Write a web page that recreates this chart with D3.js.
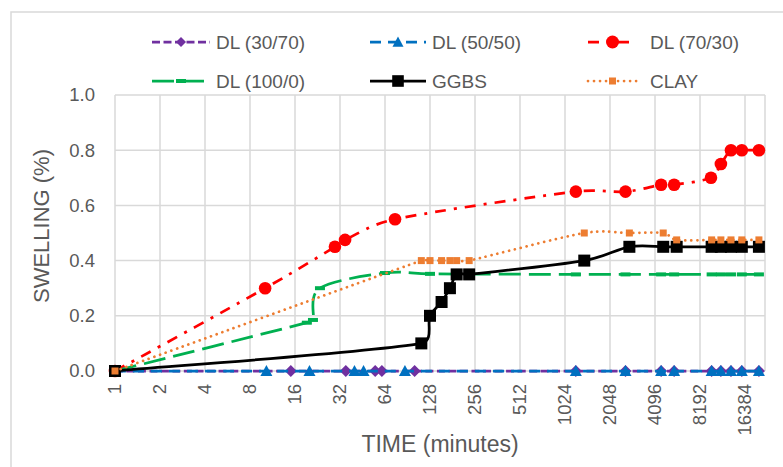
<!DOCTYPE html>
<html>
<head>
<meta charset="utf-8">
<script src="https://cdn.jsdelivr.net/npm/d3@7"></script>
<style>
  body { margin: 0; background: #fff; }
  text { font-family: "Liberation Sans", Arial, sans-serif; fill: #595959; }
</style>
</head>
<body>
<div id="chart"></div>
<script>
// ---- data ----
const seriesNames = ['DL (30/70)', 'DL (50/50)', 'DL (70/30)', 'DL (100/0)', 'GGBS', 'CLAY'];

const dl3070Time = [1, 15, 35, 55, 61, 101, 1210, 2600, 4500, 5500, 9800, 11300, 13200, 15600, 20300];
const dl3070Swell = [0, 0, 0, 0, 0, 0, 0, 0, 0, 0, 0, 0, 0, 0, 0];

const dl5050Time = [1, 10.3, 20, 40, 46, 87, 1210, 2600, 4500, 5500, 9800, 11300, 13200, 15600, 20300];
const dl5050Swell = [0, 0, 0, 0, 0, 0, 0, 0, 0, 0, 0, 0, 0, 0, 0];

const dl7030Time = [1, 10.1, 29.6, 34.6, 74.7, 1210, 2600, 4500, 5500, 9700, 11300, 13200, 15600, 20300];
const dl7030Swell = [0, 0.30, 0.45, 0.475, 0.55, 0.65, 0.65, 0.675, 0.675, 0.70, 0.75, 0.80, 0.80, 0.80];

const dl1000Time = [1, 19.2, 21.1, 23.5, 64, 128, 1210, 2600, 4500, 5500, 9800, 11300, 13200, 15600, 20300];
const dl1000Swell = [0, 0.175, 0.185, 0.30, 0.355, 0.352, 0.35, 0.35, 0.35, 0.35, 0.35, 0.35, 0.35, 0.35, 0.35];

const ggbsTime = [1, 112, 128, 153, 174, 193, 234, 1378, 2760, 4650, 5720, 9800, 11300, 13200, 15600, 20300];
const ggbsSwell = [0, 0.10, 0.20, 0.25, 0.30, 0.35, 0.35, 0.40, 0.45, 0.45, 0.45, 0.45, 0.45, 0.45, 0.45, 0.45];

const clayTime = [1, 112, 128, 153, 174, 193, 234, 1378, 2760, 4650, 5720, 9800, 11300, 13200, 15600, 20300];
const claySwell = [0, 0.40, 0.40, 0.40, 0.40, 0.40, 0.40, 0.50, 0.50, 0.50, 0.475, 0.475, 0.475, 0.475, 0.475, 0.475];

const xTicks = [1, 2, 4, 8, 16, 32, 64, 128, 256, 512, 1024, 2048, 4096, 8192, 16384];
const yTicks = [0, 0.2, 0.4, 0.6, 0.8, 1.0];

// ---- layout ----
const W = 783, H = 467;
const plot = { left: 115, right: 765, top: 95, bottom: 371 };
const GRID = '#d9d9d9';

const svg = d3.select('#chart').append('svg')
  .attr('width', W).attr('height', H);

// outer chart border (only top/left visible in the crop)
svg.append('rect')
  .attr('x', 11).attr('y', 12)
  .attr('width', 800).attr('height', 500)
  .attr('fill', 'none').attr('stroke', GRID).attr('stroke-width', 1.5);

const x = d3.scaleLog().base(2)
  .domain([1, Math.pow(2, (plot.right - plot.left) / 45)])
  .range([plot.left, plot.right]);
const y = d3.scaleLinear().domain([0, 1]).range([plot.bottom, plot.top]);

// gridlines
const grid = svg.append('g').attr('stroke', GRID).attr('stroke-width', 1.5);
grid.selectAll('.vx').data(xTicks).enter().append('line')
  .attr('x1', d => x(d)).attr('x2', d => x(d))
  .attr('y1', plot.top).attr('y2', plot.bottom);
grid.append('line')
  .attr('x1', plot.right).attr('x2', plot.right)
  .attr('y1', plot.top).attr('y2', plot.bottom);
grid.selectAll('.hy').data(yTicks).enter().append('line')
  .attr('x1', plot.left).attr('x2', plot.right)
  .attr('y1', d => y(d)).attr('y2', d => y(d));

// tick labels
svg.append('g').selectAll('text').data(yTicks).enter().append('text')
  .attr('x', 95).attr('y', d => y(d)).attr('dy', '0.35em')
  .attr('text-anchor', 'end').style('font-size', '18.5px')
  .text(d => d.toFixed(1));

svg.append('g').selectAll('text').data(xTicks).enter().append('text')
  .attr('transform', d => `translate(${x(d)},384) rotate(-90)`)
  .attr('dy', '0.35em').attr('text-anchor', 'end').style('font-size', '18.5px')
  .text(d => d);

// axis titles
svg.append('text')
  .attr('x', (plot.left + plot.right) / 2).attr('y', 452)
  .attr('text-anchor', 'middle').style('font-size', '23px')
  .text('TIME (minutes)');
svg.append('text')
  .attr('transform', 'translate(49,226) rotate(-90)')
  .attr('text-anchor', 'middle').style('font-size', '22px')
  .text('SWELLING (%)');

// ---- marker shapes ----
function marker(sel, type, color, s) {
  if (type === 'diamond') {
    sel.append('path').attr('d', `M0,${-s}L${s},0L0,${s}L${-s},0Z`).attr('fill', color);
  } else if (type === 'triangle') {
    sel.append('path').attr('d', `M0,${-s}L${s},${s*0.85}L${-s},${s*0.85}Z`).attr('fill', color);
  } else if (type === 'circle') {
    sel.append('circle').attr('r', s).attr('fill', color);
  } else if (type === 'square') {
    sel.append('rect').attr('x', -s).attr('y', -s).attr('width', 2*s).attr('height', 2*s).attr('fill', color);
  } else if (type === 'dash') {
    sel.append('rect').attr('x', -s).attr('y', -2).attr('width', 2*s).attr('height', 4).attr('fill', color);
  }
}

// Excel-ish smoothed line: bezier with tangents (p[i+1]-p[i-1])/6,
// clamped so short segments next to long ones don't loop
function smoothPath(pts) {
  const p = pts.map(d => [x(d[0]), y(d[1])]);
  const n = p.length;
  const tan = p.map((d, i) => {
    const a = p[Math.max(i - 1, 0)], b = p[Math.min(i + 1, n - 1)];
    return [(b[0] - a[0]) / 6, (b[1] - a[1]) / 6];
  });
  function clamp(v, maxLen) {
    const l = Math.hypot(v[0], v[1]);
    return l > maxLen ? [v[0] * maxLen / l, v[1] * maxLen / l] : v;
  }
  const path = d3.path();
  path.moveTo(p[0][0], p[0][1]);
  for (let i = 0; i < n - 1; i++) {
    const chord = Math.hypot(p[i+1][0] - p[i][0], p[i+1][1] - p[i][1]);
    const t0 = clamp(tan[i], chord * 0.45), t1 = clamp(tan[i+1], chord * 0.45);
    path.bezierCurveTo(p[i][0] + t0[0], p[i][1] + t0[1],
      p[i+1][0] - t1[0], p[i+1][1] - t1[1], p[i+1][0], p[i+1][1]);
  }
  return path.toString();
}

const series = [
  { name: seriesNames[0], t: dl3070Time, v: dl3070Swell, color: '#7030A0', dash: '8,3.5', cap: 'butt', mk: 'diamond', ms: 6, lms: 5 },
  { name: seriesNames[1], t: dl5050Time, v: dl5050Swell, color: '#0070C0', dash: '11,7', cap: 'butt', mk: 'triangle', ms: 6, lms: 5.5 },
  { name: seriesNames[2], t: dl7030Time, v: dl7030Swell, color: '#FF0000', dash: '11,8,3,8', cap: 'butt', mk: 'circle', ms: 6.3, lms: 6.5 },
  { name: seriesNames[3], t: dl1000Time, v: dl1000Swell, color: '#00B050', dash: '22,8', cap: 'butt', mk: 'dash', ms: 5, lms: 5 },
  { name: seriesNames[4], t: ggbsTime, v: ggbsSwell, color: '#000000', dash: null, cap: 'butt', mk: 'square', ms: 6, lms: 5.8 },
  { name: seriesNames[5], t: clayTime, v: claySwell, color: '#ED7D31', dash: '0.01,6', cap: 'round', mk: 'square', ms: 3.5, lms: 3.5 }
];

series.forEach(s => {
  const pts = s.t.map((t, i) => [t, s.v[i]]);
  const g = svg.append('g');
  g.append('path')
    .attr('d', smoothPath(pts))
    .attr('fill', 'none')
    .attr('stroke', s.color)
    .attr('stroke-width', 2.75)
    .attr('stroke-linecap', s.cap)
    .attr('stroke-dasharray', s.dash);
  g.selectAll('g').data(pts).enter().append('g')
    .attr('transform', d => `translate(${x(d[0])},${y(d[1])})`)
    .each(function() { marker(d3.select(this), s.mk, s.color, s.ms); });
});

// ---- legend ----
const legCols = [
  { x0: 152, x1: 210, tx: 216 },
  { x0: 370, x1: 426, tx: 432 },
  { x0: 588, x1: 637, tx: 650 }
];
const legRows = [42, 81];

series.forEach((s, i) => {
  const c = legCols[i % 3], ry = legRows[Math.floor(i / 3)];
  const g = svg.append('g');
  g.append('line')
    .attr('x1', c.x0).attr('x2', c.x1).attr('y1', ry).attr('y2', ry)
    .attr('stroke', s.color).attr('stroke-width', 2.75)
    .attr('stroke-linecap', s.cap)
    .attr('stroke-dasharray', s.dash);
  const m = g.append('g').attr('transform', `translate(${(c.x0 + c.x1) / 2},${ry})`);
  marker(m, s.mk, s.color, s.lms);
  g.append('text')
    .attr('x', c.tx).attr('y', ry).attr('dy', '0.35em')
    .style('font-size', '19px')
    .text(s.name);
});
</script>
</body>
</html>
